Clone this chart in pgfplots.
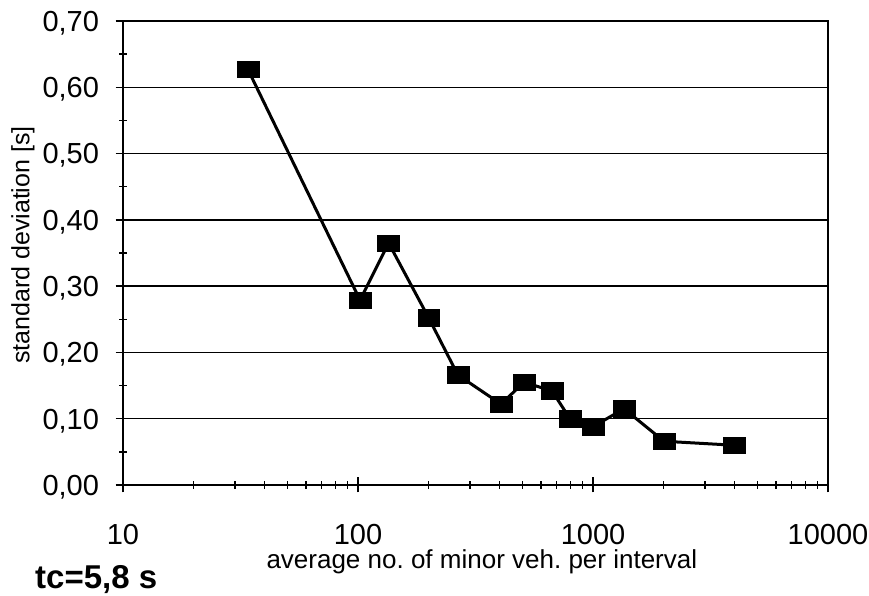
\documentclass[border=0pt]{standalone}
\usepackage{fontspec}
\setmainfont{Liberation Sans}
\usepackage{pgfplots}
\pgfplotsset{compat=1.18}
\frenchspacing
\begin{document}
\begin{tikzpicture}
\path[use as bounding box] (0,0) rectangle (869pt,596pt);
\begin{semilogxaxis}[
  at={(123pt,111pt)}, anchor=south west,
  scale only axis, width=705pt, height=464pt,
  xmin=10, xmax=10000, ymin=0, ymax=0.7,
  xtick={10,100,1000,10000}, xticklabels={10,100,1000,10000},
  minor xtick={20,30,40,50,60,70,80,90,200,300,400,500,600,700,800,900,2000,3000,4000,5000,6000,7000,8000,9000},
  ytick={0,0.1,0.2,0.3,0.4,0.5,0.6,0.7},
  yticklabels={{0,00},{0,10},{0,20},{0,30},{0,40},{0,50},{0,60},{0,70}},
  minor ytick={0.05,0.15,0.25,0.35,0.45,0.55,0.65},
  tick pos=left,
  tick align=center,
  major tick length=15pt, minor tick length=8pt,
  every tick/.append style={black, line width=1.3pt},
  ymajorgrids, major grid style={black, line width=1.5pt},
  axis line style={line width=1.5pt},
  tick label style={font=\fontsize{29}{34}\selectfont},
  yticklabel style={anchor=base east, xshift=-13pt, yshift=-10.3pt},
  xticklabel style={anchor=base, yshift=-52pt, inner sep=0.5pt},
  xlabel={average no.\ of minor veh.\ per interval},
  xlabel style={at={(axis description cs:0.509,-0.181)}, anchor=base, inner sep=0pt, font=\fontsize{26}{30}\selectfont},
  ylabel={standard deviation [s]},
  ylabel style={at={(axis description cs:-0.142,0.517)}, anchor=center, inner sep=0pt, font=\fontsize{25}{30}\selectfont},
]
\addplot[black, line width=3pt, mark=square*, mark size=8.25pt, mark options={xscale=1.33, line width=0.5pt, solid}] coordinates {
(34,0.627) (102,0.279) (135,0.365) (200,0.252) (266,0.166) (406,0.122) (508,0.155) (669,0.142) (798,0.100) (1000,0.088) (1355,0.115) (2005,0.066) (3981,0.060)
};
\end{semilogxaxis}
\node[anchor=base west, inner sep=0pt, font=\bfseries\fontsize{33}{40}\selectfont] at (35pt,7pt) {tc=5,8 s};
\end{tikzpicture}
\end{document}
